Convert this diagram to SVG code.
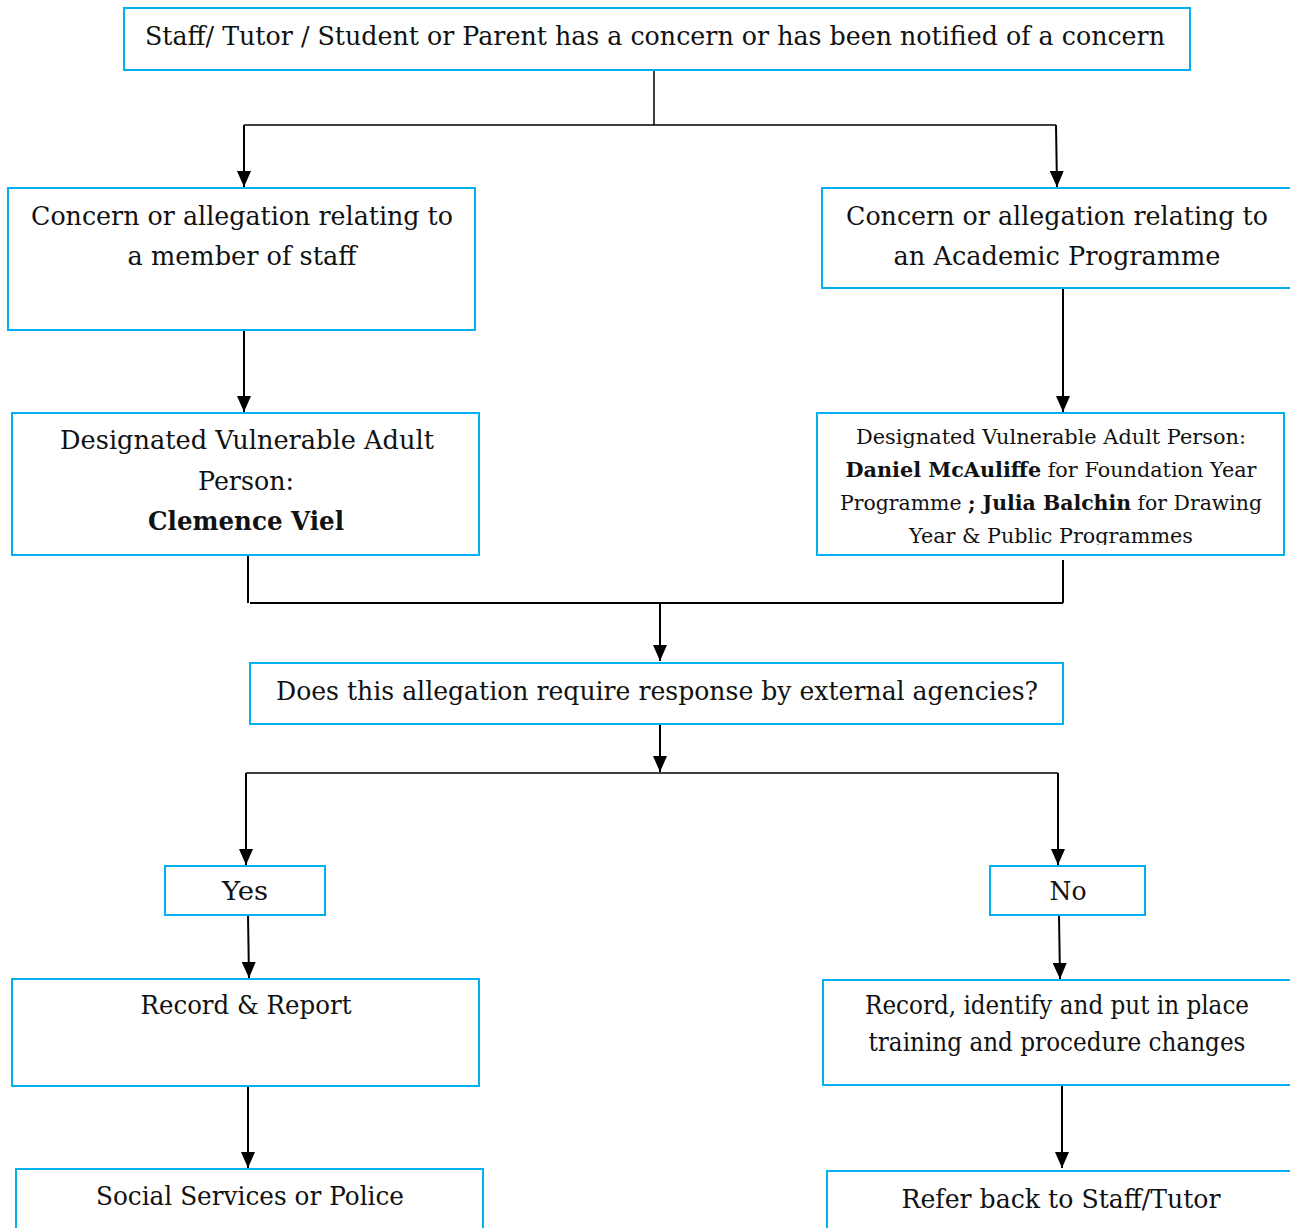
<svg xmlns="http://www.w3.org/2000/svg" width="1290" height="1228" viewBox="0 0 1290 1228">
<style>
.box{fill:#fff;stroke:#00b0f0;stroke-width:2}
.t{font-family:"DejaVu Serif","Liberation Serif",serif;font-size:25.5px;fill:#111;text-anchor:middle}
.s{font-size:21px}
.b{font-weight:bold}
.c{fill:none;stroke:#000;stroke-width:2}
.c1{fill:none;stroke:#000;stroke-width:1.5}
</style>
<defs>
<marker id="ah" viewBox="0 0 16 14" refX="16" refY="7" markerWidth="16" markerHeight="14" markerUnits="userSpaceOnUse" orient="auto">
<path d="M0,0 L16,7 L0,14 z" fill="#000"/>
</marker>
<clipPath id="clipR"><rect x="817" y="413" width="470" height="132"/></clipPath>
</defs>
<rect width="1290" height="1228" fill="#fff"/>

<g id="connectors">
<path class="c1" d="M654,70 V125"/>
<path class="c1" d="M244,125 H1056"/>
<path class="c" d="M244,125 V187" marker-end="url(#ah)"/>
<path class="c" d="M1056,125 L1057,187" marker-end="url(#ah)"/>
<path class="c" d="M244,330 V412" marker-end="url(#ah)"/>
<path class="c" d="M1063,288 V412" marker-end="url(#ah)"/>
<path class="c" d="M248,556 V603"/>
<path class="c" d="M1063,560 V603"/>
<path class="c" d="M250,603 H1063"/>
<path class="c" d="M660,603 V661" marker-end="url(#ah)"/>
<path class="c" d="M660,724 V772" marker-end="url(#ah)"/>
<path class="c1" d="M246,773 H1058"/>
<path class="c" d="M246,773 V865" marker-end="url(#ah)"/>
<path class="c" d="M1058,773 V865" marker-end="url(#ah)"/>
<path class="c" d="M248,915 L249,978" marker-end="url(#ah)"/>
<path class="c" d="M1059,915 L1060,979" marker-end="url(#ah)"/>
<path class="c" d="M248,1086 V1168" marker-end="url(#ah)"/>
<path class="c" d="M1062,1085 V1168" marker-end="url(#ah)"/>
</g>

<g id="n-top">
<rect class="box" x="124" y="8" width="1066" height="62"/>
<text class="t" x="655" y="45" textLength="1020" lengthAdjust="spacingAndGlyphs">Staff/ Tutor / Student or Parent has a concern or has been notified of a concern</text>
</g>

<g id="n-staff">
<rect class="box" x="8" y="188" width="467" height="142"/>
<text class="t" x="242" y="225" textLength="422" lengthAdjust="spacingAndGlyphs">Concern or allegation relating to</text>
<text class="t" x="242" y="265" textLength="229" lengthAdjust="spacingAndGlyphs">a member of staff</text>
</g>

<g id="n-academic">
<rect class="box" x="822" y="188" width="470" height="100"/>
<text class="t" x="1057" y="225" textLength="422" lengthAdjust="spacingAndGlyphs">Concern or allegation relating to</text>
<text class="t" x="1057" y="265" textLength="327" lengthAdjust="spacingAndGlyphs">an Academic Programme</text>
</g>

<g id="n-dvap-left">
<rect class="box" x="12" y="413" width="467" height="142"/>
<text class="t" x="247" y="449" textLength="374" lengthAdjust="spacingAndGlyphs">Designated Vulnerable Adult</text>
<text class="t" x="246" y="490" textLength="96" lengthAdjust="spacingAndGlyphs">Person:</text>
<text class="t b" x="246" y="530" textLength="196" lengthAdjust="spacingAndGlyphs">Clemence Viel</text>
</g>

<g id="n-dvap-right">
<rect class="box" x="817" y="413" width="467" height="142"/>
<g clip-path="url(#clipR)">
<text class="t s" x="1051" y="444" textLength="390" lengthAdjust="spacingAndGlyphs">Designated Vulnerable Adult Person:</text>
<text class="t s" x="1051" y="477" textLength="411" lengthAdjust="spacingAndGlyphs"><tspan class="b">Daniel McAuliffe</tspan> for Foundation Year</text>
<text class="t s" x="1051" y="510" textLength="422" lengthAdjust="spacingAndGlyphs">Programme <tspan class="b">; Julia Balchin</tspan> for Drawing</text>
<text class="t s" x="1051" y="543" textLength="284" lengthAdjust="spacingAndGlyphs">Year &amp; Public Programmes</text>
</g>
</g>

<g id="n-question">
<rect class="box" x="250" y="663" width="813" height="61"/>
<text class="t" x="657" y="700" textLength="762" lengthAdjust="spacingAndGlyphs">Does this allegation require response by external agencies?</text>
</g>

<g id="n-yes">
<rect class="box" x="165" y="866" width="160" height="49"/>
<text class="t" x="245" y="900" textLength="46" lengthAdjust="spacingAndGlyphs">Yes</text>
</g>

<g id="n-no">
<rect class="box" x="990" y="866" width="155" height="49"/>
<text class="t" x="1068" y="900" textLength="37" lengthAdjust="spacingAndGlyphs">No</text>
</g>

<g id="n-record">
<rect class="box" x="12" y="979" width="467" height="107"/>
<text class="t" x="246" y="1014" textLength="211" lengthAdjust="spacingAndGlyphs">Record &amp; Report</text>
</g>

<g id="n-record-identify">
<rect class="box" x="823" y="980" width="469" height="105"/>
<text class="t" x="1057" y="1014" textLength="384" lengthAdjust="spacingAndGlyphs">Record, identify and put in place</text>
<text class="t" x="1057" y="1051" textLength="377" lengthAdjust="spacingAndGlyphs">training and procedure changes</text>
</g>

<g id="n-social">
<rect class="box" x="16" y="1169" width="467" height="80"/>
<text class="t" x="250" y="1205" textLength="308" lengthAdjust="spacingAndGlyphs">Social Services or Police</text>
</g>

<g id="n-refer">
<rect class="box" x="827" y="1171" width="466" height="80"/>
<text class="t" x="1061" y="1208" textLength="319" lengthAdjust="spacingAndGlyphs">Refer back to Staff/Tutor</text>
</g>
</svg>
